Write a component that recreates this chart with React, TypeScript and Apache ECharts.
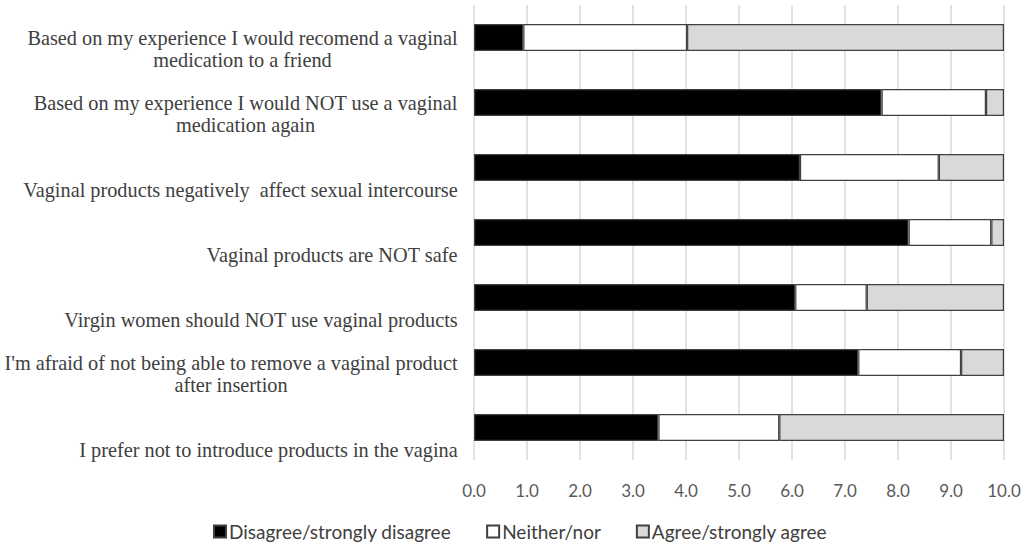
import React, { useEffect, useRef } from "react";
import * as echarts from "echarts";

const categories: string[] = [
  "Based on my experience I would recomend a vaginal\nmedication to a friend",
  "Based on my experience I would NOT use a vaginal\nmedication again",
  "Vaginal products negatively  affect sexual intercourse",
  "Vaginal products are NOT safe",
  "Virgin women should NOT use vaginal products",
  "I'm afraid of not being able to remove a vaginal product\nafter insertion",
  "I prefer not to introduce products in the vagina",
];

const disagree: number[] = [0.93, 7.69, 6.15, 8.2, 6.06, 7.25, 3.48];
const neither: number[] = [3.09, 1.97, 2.62, 1.56, 1.35, 1.94, 2.28];
const agree: number[] = [5.98, 0.34, 1.23, 0.24, 2.59, 0.81, 4.24];

const seriesNames = ["Disagree/strongly disagree", "Neither/nor", "Agree/strongly agree"];
const seriesColors = ["#000000", "#ffffff", "#d9d9d9"];

const LABEL_FONT = "Liberation Serif";
const LABEL_SIZE = 20.3;

function measure(text: string): number {
  const c = document.createElement("canvas").getContext("2d");
  if (!c) return text.length * 9;
  c.font = `${LABEL_SIZE}px "${LABEL_FONT}"`;
  return c.measureText(text).width;
}

export default function App() {
  const ref = useRef<HTMLDivElement>(null);
  useEffect(() => {
    if (!ref.current) return;
    const chart = echarts.init(ref.current, undefined, { renderer: "svg" });
    const values = [disagree, neither, agree];
    const rich: Record<string, any> = {};
    categories.forEach((cat, i) => {
      const lines = cat.split("\n");
      const w = Math.ceil(Math.max(...lines.map(measure)));
      rich["c" + i] = {
        width: w,
        align: "center",
        color: "#404040",
        fontFamily: LABEL_FONT,
        fontSize: LABEL_SIZE,
        lineHeight: 22,
      };
    });
    chart.setOption({
      animation: false,
      backgroundColor: "#ffffff",
      grid: { left: 474, right: 20, top: 5, bottom: 88, containLabel: false },
      xAxis: {
        type: "value",
        min: 0,
        max: 10,
        interval: 1,
        axisLine: { show: false },
        axisTick: { show: false },
        splitLine: { show: true, lineStyle: { color: "#d9d9d9", width: 1.5 } },
        axisLabel: {
          formatter: (v: number) => v.toFixed(1),
          color: "#595959",
          fontFamily: "Lato",
          fontSize: 17,
          margin: 22,
        },
      },
      yAxis: {
        type: "category",
        inverse: true,
        data: categories,
        axisLine: { show: false },
        axisTick: { show: false },
        axisLabel: {
          interval: 0,
          hideOverlap: false,
          margin: 16,
          color: "#404040",
          fontFamily: LABEL_FONT,
          fontSize: LABEL_SIZE,
          lineHeight: 22,
          align: "right",
          verticalAlign: "middle",
          formatter: (v: string, idx: number) => {
            const lines = v.split("\n").map((l) => `{c${idx}|${l}}`);
            const pad = lines.length > 1 ? "\n" : "\n\n";
            return pad + lines.join("\n");
          },
          rich,
        },
      },
      legend: {
        bottom: 2,
        left: 208,
        itemWidth: 12,
        itemHeight: 12,
        itemGap: 35,
        icon: "rect",
        textStyle: { color: "#404040", fontFamily: "Lato", fontSize: 19, padding: [0, 0, 0, -2] },
        data: seriesNames,
      },
      series: seriesNames.map((name, i) => ({
        name,
        type: "bar",
        stack: "total",
        barWidth: 27,
        data: values[i],
        itemStyle: { color: seriesColors[i], borderColor: "#404040", borderWidth: 1.2 },
      })),
    });
    return () => chart.dispose();
  }, []);
  return (
    <div
      ref={ref}
      style={{ position: "fixed", left: 0, top: 0, width: 1024, height: 548, background: "#fff" }}
    />
  );
}
